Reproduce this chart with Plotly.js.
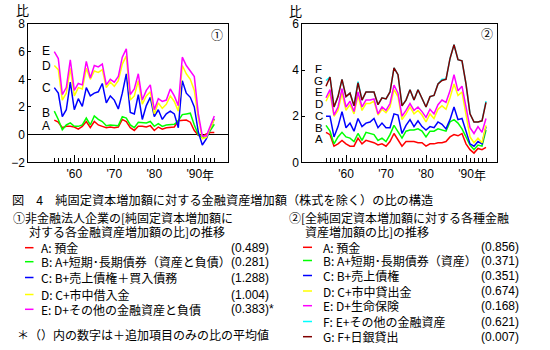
<!DOCTYPE html>
<html><head><meta charset="utf-8">
<script src="https://cdn.plot.ly/plotly-3.0.1.min.js"></script>
<style>html,body{margin:0;padding:0;background:#fff}#chart{width:550px;height:350px}</style>
</head><body><div id="chart"></div>
<script>
// ---- data ----
const years = [1955,1956,1957,1958,1959,1960,1961,1962,1963,1964,1965,1966,1967,1968,1969,1970,1971,1972,1973,1974,1975,1976,1977,1978,1979,1980,1981,1982,1983,1984,1985,1986,1987,1988,1989,1990,1991,1992,1993,1994,1995];
const decadeTicks = [1960,1970,1980,1990];
const decadeLabels = ["'60","'70","'80","'90"];

// panel 1 (non-financial corporations)
const p1A = [1.05,0.9,0.5,0.6,0.6,0.55,0.4,0.6,0.95,0.5,0.95,0.7,0.6,0.5,0.55,0.5,0.55,1.1,0.95,0.5,0.3,0.6,0.6,0.55,0.65,0.3,0.55,0.4,0.5,0.5,0.55,1.0,1.05,1.05,0.9,0.3,-0.05,-0.15,0.05,0.15,0.15];
const p1B = [1.7,1.1,0.35,0.7,0.85,0.6,0.6,0.7,1.2,0.7,1.35,1.1,0.95,0.65,0.7,0.65,0.65,1.3,1.2,0.7,0.5,0.9,0.9,0.85,0.95,0.6,0.8,0.6,0.7,0.7,0.75,1.0,1.45,1.5,1.55,0.7,0.0,-0.2,-0.2,0.3,0.75];
const p1C = [3.4,3.0,1.3,1.8,3.8,1.8,2.6,2.05,3.4,2.8,3.0,3.1,3.7,2.3,2.8,2.5,1.85,3.0,4.4,1.6,1.5,2.9,1.1,2.1,2.7,1.3,1.8,1.1,1.5,1.7,1.5,0.5,3.9,3.0,2.7,2.0,0.2,-0.75,-0.3,0.5,1.15];
const p1D = [5.0,4.7,2.5,3.0,4.8,2.8,3.4,3.3,4.8,4.0,4.6,4.5,4.7,3.4,3.8,3.5,3.9,5.1,5.7,2.5,2.8,3.9,2.2,2.8,3.1,1.5,2.3,1.9,2.2,2.8,2.4,1.7,5.0,4.4,4.0,3.2,1.2,-0.3,-0.2,0.4,1.1];
const p1E = [6.0,5.5,2.9,3.4,5.4,3.2,3.7,3.6,5.3,4.1,5.0,4.9,5.1,3.6,4.0,3.8,4.2,5.6,6.2,2.9,3.3,4.4,2.5,3.2,3.6,1.8,2.6,2.4,2.5,3.3,2.8,2.1,5.6,5.0,4.6,4.2,1.5,-0.1,-0.1,0.6,1.35];

// panel 2 (all sectors)
const p2A = [1.3,1.2,0.7,0.8,0.95,0.8,0.7,0.7,1.05,0.8,0.95,0.9,0.85,0.75,0.8,0.7,0.9,1.25,0.95,0.7,0.9,0.9,0.9,0.85,0.85,0.7,0.8,0.8,0.85,0.85,0.9,1.1,1.2,1.15,1.25,0.8,0.55,0.4,0.6,0.55,0.65];
const p2B = [1.6,1.35,0.8,1.1,1.3,1.1,1.05,0.9,1.25,0.95,1.3,1.25,1.2,0.95,1.05,0.9,1.2,1.6,1.35,1.05,1.35,1.4,1.4,1.45,1.35,1.1,1.35,1.35,1.45,1.4,1.35,1.75,1.85,1.7,1.45,1.1,0.75,0.55,0.75,0.7,1.4];
const p2C = [2.0,2.0,1.1,1.55,2.2,1.5,1.7,1.35,1.9,1.55,1.7,1.75,1.9,1.5,1.7,1.5,1.5,2.1,2.05,1.25,1.6,1.85,1.55,1.8,1.55,1.4,1.55,1.5,1.75,1.65,1.45,1.85,2.4,1.85,1.9,1.35,0.8,0.7,0.9,0.8,1.55];
const p2D = [2.65,3.0,2.0,2.25,3.0,2.25,2.5,2.1,2.9,2.25,2.55,2.55,2.65,2.05,2.3,2.15,2.4,3.15,2.85,1.85,2.1,2.4,2.1,2.25,2.05,1.75,2.1,1.9,2.3,2.45,2.3,2.8,3.4,2.9,3.05,2.0,1.1,0.85,1.05,0.85,1.6];
const p2E = [2.8,3.15,2.05,2.4,3.2,2.4,2.65,2.2,3.05,2.4,2.7,2.7,2.75,2.1,2.4,2.25,2.55,3.35,3.0,2.0,2.25,2.55,2.25,2.4,2.2,1.95,2.3,2.1,2.5,2.7,2.6,3.1,3.8,3.1,3.3,2.4,1.5,1.25,1.55,1.3,1.9];
const p2F = [3.55,3.7,2.4,2.85,3.6,2.85,3.0,2.45,3.5,2.7,3.05,3.05,3.05,2.5,2.8,2.75,3.05,4.1,3.8,2.45,2.7,3.15,2.7,3.15,2.8,2.4,2.85,2.9,3.4,3.6,3.6,4.5,5.1,4.45,4.4,3.4,2.1,1.75,1.75,1.8,2.65];
const p2G = [3.3,3.7,2.4,2.85,3.6,2.85,3.0,2.45,3.45,2.7,3.05,3.05,3.05,2.5,2.8,2.75,3.05,4.1,3.8,2.45,2.7,3.15,2.7,3.15,2.8,2.4,2.85,2.9,3.4,3.55,3.6,4.5,5.1,4.45,4.4,3.4,2.1,1.75,1.75,1.8,2.6];

const seriesLetters1 = ["A","B","C","D","E"];
const seriesLetters2 = ["A","B","C","D","E","F","G"];
const legend1Labels = ["A: 預金","B: A+短期･長期債券（資産と負債）","C: B+売上債権＋買入債務","D: C+市中借入金","E: D+その他の金融資産と負債"];
const legend1Values = ["(0.489)","(0.281)","(1.288)","(1.004)","(0.383)*"];
const legend2Labels = ["A: 預金","B: A+短期･長期債券（資産）","C: B+売上債権","D: C+市中貸出金","E: D+生命保険","F: E+その他の金融資産","G: F+日銀貸出"];
const legend2Values = ["(0.856)","(0.371)","(0.351)","(0.674)","(0.168)","(0.621)","(0.007)"];

// ---- styling ----
const W = 550, H = 350;
const px = x => x / W, py = y => 1 - y / H;
const COL = {A:'#ff0000',B:'#00ff00',C:'#0000ff',D:'#ffff00',E:'#ff00ff',F:'#00ffff',G:'#800000'};
const JP = "'Noto Sans CJK JP', 'Noto Sans', sans-serif";
const LAT = "'Liberation Sans', Arial, sans-serif";

const p1 = [p1A,p1B,p1C,p1D,p1E];
const p2 = [p2A,p2B,p2C,p2D,p2E,p2F,p2G];
const traces = [];
p1.forEach((v,i)=>traces.push({x:years,y:v,type:'scatter',mode:'lines',xaxis:'x',yaxis:'y',
  line:{color:COL[seriesLetters1[i]],width:1.5},hoverinfo:'skip'}));
p2.forEach((v,i)=>traces.push({x:years,y:v,type:'scatter',mode:'lines',xaxis:'x2',yaxis:'y2',
  line:{color:COL[seriesLetters2[i]],width:1.5},hoverinfo:'skip'}));

const yDom = [py(162.3), py(24)];
function xAx(dom, rng, anchor){
  return {domain:dom, range:rng, anchor:anchor, tickmode:'array', tickvals:decadeTicks, ticktext:decadeLabels,
    ticks:'inside', ticklen:7, tickcolor:'#000', tickwidth:1,
    minor:{tickmode:'array', tickvals:years, ticks:'inside', ticklen:4, tickcolor:'#000', tickwidth:1},
    showline:true, mirror:true, linecolor:'#000', linewidth:1, showgrid:false, zeroline:false,
    tickfont:{family:LAT, size:12, color:'#000'}, fixedrange:true};
}
function yAx(rng, vals, anchor, zl){
  return {domain:yDom, range:rng, anchor:anchor, tickmode:'array', tickvals:vals,
    ticks:'inside', ticklen:3, tickcolor:'#000', showline:true, mirror:true, linecolor:'#000', linewidth:1,
    showgrid:false, zeroline:zl, zerolinecolor:'#000', zerolinewidth:1,
    tickfont:{family:LAT, size:12, color:'#000'}, fixedrange:true};
}

const ann = [];
function T(text, x, y, o={}){
  ann.push(Object.assign({text:text, x:px(x), y:py(y), xref:'paper', yref:'paper', showarrow:false,
    xanchor:'left', yanchor:'middle', font:{family:JP, size:12, color:'#000'}}, o));
}
// axis decorations
T('比', 22.7, 9.5, {xanchor:'center', font:{family:JP,size:13,color:'#000'}});
T('比', 295.7, 10, {xanchor:'center', font:{family:JP,size:13,color:'#000'}});
T('年', 208, 174, {xanchor:'center'});
T('年', 480, 174, {xanchor:'center'});
T('①', 216.7, 34, {xanchor:'center'});
T('②', 486.7, 33.5, {xanchor:'center'});
// series letters
const lp1 = [126,112.7,88.3,66,50.7];
seriesLetters1.forEach((s,i)=>T(s, 46, lp1[i], {xanchor:'center', font:{family:LAT,size:12,color:'#000'}}));
const lp2 = [139.3,127.7,116,104,91.7,69.3,81];
seriesLetters2.forEach((s,i)=>T(s, 318.5, lp2[i], {xanchor:'center', font:{family:LAT,size:11.5,color:'#000'}}));
// caption and headings
T('図　4　純固定資本増加額に対する金融資産増加額（株式を除く）の比の構造', 10, 200, {font:{family:JP,size:12.2,color:'#000'}});
T('①非金融法人企業の[純固定資本増加額に', 11, 217.5);
T('対する各金融資産増加額の比]の推移', 26.5, 231);
T('②[全純固定資本増加額に対する各種金融', 287, 217.5);
T('資産増加額の比]の推移', 303, 231);
// legends
const shapes = [];
const ly1 = [247.7,261.7,277.5,294.5,309.3];
legend1Labels.forEach((t,i)=>{
  T(t, 39, ly1[i]);
  T(legend1Values[i], 229, ly1[i], {font:{family:LAT,size:12,color:'#000'}});
  shapes.push({type:'line', xref:'paper', yref:'paper', x0:px(25), x1:px(33.5), y0:py(ly1[i]), y1:py(ly1[i]),
    line:{color:COL[seriesLetters1[i]], width:1.5}});
});
const ly2 = [247.3,260.5,275.5,291,305.7,321.5,336.7];
legend2Labels.forEach((t,i)=>{
  T(t, 321, ly2[i]);
  T(legend2Values[i], 479, ly2[i], {font:{family:LAT,size:12,color:'#000'}});
  shapes.push({type:'line', xref:'paper', yref:'paper', x0:px(303), x1:px(312), y0:py(ly2[i]), y1:py(ly2[i]),
    line:{color:COL[seriesLetters2[i]], width:1.5}});
});
T('＊（）内の数字は＋追加項目のみの比の平均値', 15, 334.5);

const layout = {
  width:W, height:H, margin:{l:0,r:0,t:0,b:0}, paper_bgcolor:'#fff', plot_bgcolor:'#fff', showlegend:false,
  xaxis: xAx([px(28.3), px(227.7)], [1948.5, 1998.35], 'y'),
  yaxis: yAx([-2,8], [-2,0,2,4,6,8], 'x', true),
  xaxis2: xAx([px(302.3), px(497.3)], [1949.075, 1997.825], 'y2'),
  yaxis2: yAx([0,6], [0,2,4,6], 'x2', false),
  annotations: ann, shapes: shapes
};
Plotly.newPlot('chart', traces, layout, {staticPlot:true, displayModeBar:false});
</script></body></html>
